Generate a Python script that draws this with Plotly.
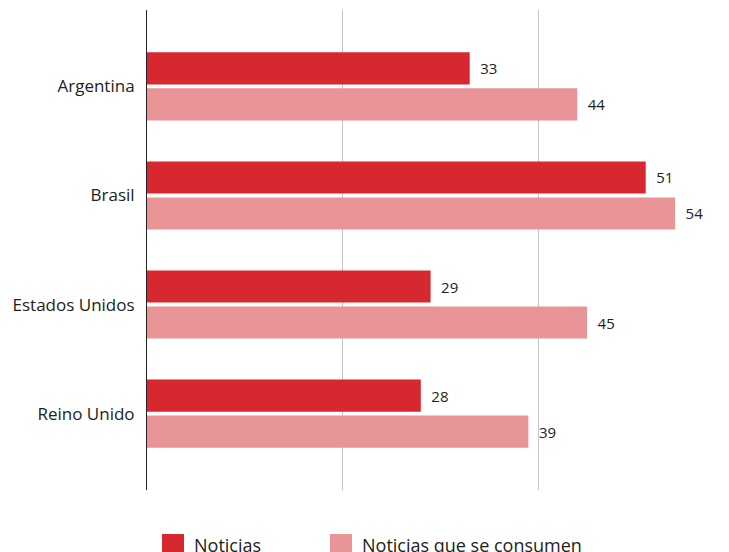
import plotly.graph_objects as go

paises = ["Argentina", "Brasil", "Estados Unidos", "Reino Unido"]
noticias = [33, 51, 29, 28]
consumen = [44, 54, 45, 39]
serie_nombres = ["Noticias", "Noticias que se consumen"]
colores = ["#d7282f", "#e99496"]

FONT = "Open Sans"

fig = go.Figure()
for nombre, vals, col in zip(serie_nombres, [noticias, consumen], colores):
    fig.add_trace(go.Bar(
        name=nombre, y=paises, x=vals, orientation="h",
        marker=dict(color=col, line=dict(width=0)),
        text=vals, texttemplate="\u2002%{x}", textposition="outside",
        textfont=dict(family=FONT, size=15, color="#222"),
        cliponaxis=False, showlegend=False,
    ))

fig.update_layout(
    width=729, height=552,
    margin=dict(l=147, r=7, t=10, b=62),
    paper_bgcolor="white", plot_bgcolor="white",
    barmode="group", bargap=0.34, bargroupgap=0.11,
    font=dict(family=FONT, size=15, color="#222"),
    xaxis=dict(range=[0, 58.8], dtick=20, showticklabels=False,
               showgrid=True, gridcolor="#c4c4c4", gridwidth=1,
               zeroline=False, showline=False, ticks=""),
    yaxis=dict(range=[3.7, -0.7], showline=True, linecolor="#222", linewidth=1,
               showgrid=False, zeroline=False, ticks="", ticklabelstandoff=8,
               tickfont=dict(family=FONT, size=17, color="#222")),
)

# custom legend with large swatches
leg_x = [162, 330]
for nombre, col, x0 in zip(serie_nombres, colores, leg_x):
    fig.add_shape(type="rect", xref="paper", yref="paper",
                  x0=(x0 - 147) / 575, x1=(x0 + 22 - 147) / 575,
                  y0=-(534 - 490) / 480 - 20 / 480, y1=-(534 - 490) / 480,
                  fillcolor=col, line=dict(width=0))
    fig.add_annotation(xref="paper", yref="paper",
                       x=(x0 + 30 - 147) / 575, y=-(545 - 490) / 480,
                       text=nombre, showarrow=False, xanchor="left", yanchor="middle",
                       font=dict(family=FONT, size=18, color="#222"))

fig.write_html("out.html")
